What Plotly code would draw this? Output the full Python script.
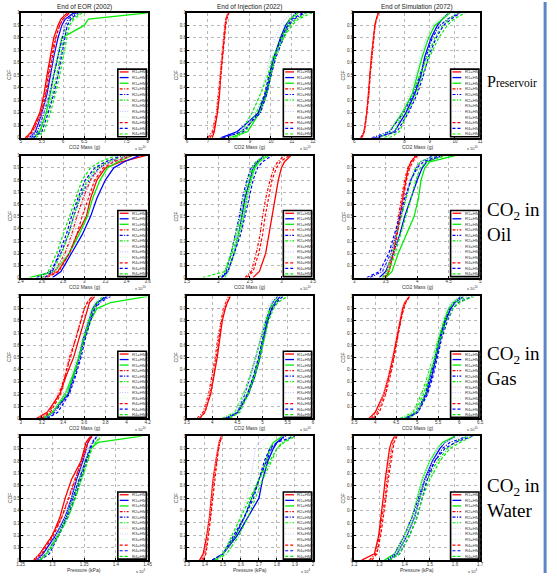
import plotly.graph_objects as go

# ---------------- data ----------------
CDF_LEVELS = [0, 0.05, 0.2, 0.35, 0.5, 0.65, 0.8, 0.9, 0.95, 1.0]
SERIES_NAMES = ["R1=HM1", "R1=HM2", "R1=HM3", "R2=HM1", "R2=HM2", "R2=HM3",
                "R3=HM1", "R3=HM2", "R3=HM3", "R4=HM1", "R4=HM2", "R4=HM3"]
COLUMN_TITLES = ["End of EOR (2002)", "End of Injection (2022)", "End of Simulation (2072)"]
ROW_LABELS = ["P<span style='font-size:11.5px'>reservoir</span>",
              "CO<sub>2</sub> in<br>Oil", "CO<sub>2</sub> in<br>Gas", "CO<sub>2</sub> in<br>Water"]
X_TITLES = ["CO2 Mass (g)", "CO2 Mass (g)", "CO2 Mass (g)", "Pressure (kPa)"]
X_EXPONENTS = ["10", "10", "10", "4"]
Y_TICKS = [0, 0.1, 0.2, 0.3, 0.4, 0.5, 0.6, 0.7, 0.8, 0.9, 1]

# x tick values per panel (row-major)
X_TICKS = [
    [5, 5.5, 6, 6.5, 7, 7.5, 8], [6, 7, 8, 9, 10, 11, 12], [6, 7, 8, 9, 10, 11],
    [2.4, 2.6, 2.8, 3, 3.2, 3.4, 3.6], [1.5, 2, 2.5, 3, 3.5], [3, 3.5, 4, 4.5, 5],
    [3, 3.2, 3.4, 3.6, 3.8, 4, 4.2], [3.5, 4, 4.5, 5, 5.5, 6], [3.5, 4, 4.5, 5, 5.5, 6, 6.5],
    [1.25, 1.3, 1.35, 1.4, 1.45], [1.3, 1.4, 1.5, 1.6, 1.7, 1.8, 1.9, 2], [1.2, 1.3, 1.4, 1.5, 1.6, 1.7],
]

# quantiles (x at each CDF level) for the 12 series of each panel
pres_eor = [
    [5.12, 5.25, 5.45, 5.55, 5.62, 5.7, 5.78, 5.88, 5.95, 6.1],
    [5.2, 5.35, 5.5, 5.62, 5.7, 5.78, 5.88, 5.97, 6.05, 6.25],
    [5.3, 5.45, 5.6, 5.7, 5.78, 5.87, 5.97, 6.5, 6.6, 8.0],
    [5.1, 5.3, 5.48, 5.58, 5.65, 5.72, 5.82, 5.92, 6.0, 6.15],
    [5.25, 5.4, 5.55, 5.68, 5.78, 5.88, 5.97, 6.05, 6.12, 6.3],
    [5.3, 5.45, 5.62, 5.75, 5.85, 5.93, 6.02, 6.1, 6.2, 6.4],
    [5.15, 5.3, 5.5, 5.6, 5.68, 5.77, 5.85, 5.95, 6.02, 6.2],
    [5.2, 5.35, 5.55, 5.67, 5.75, 5.85, 5.95, 6.05, 6.15, 6.4],
    [5.3, 5.5, 5.65, 5.77, 5.87, 5.97, 6.05, 6.15, 6.3, 6.6],
    [5.15, 5.28, 5.48, 5.6, 5.67, 5.75, 5.83, 5.92, 6.0, 6.15],
    [5.3, 5.5, 5.65, 5.78, 5.88, 5.96, 6.03, 6.1, 6.18, 6.35],
    [5.35, 5.55, 5.7, 5.82, 5.92, 6.0, 6.08, 6.15, 6.25, 6.45],
]
pres_inj = [
    [7.2, 7.3, 7.45, 7.55, 7.6, 7.68, 7.75, 7.8, 7.85, 7.95],
    [7.6, 8.4, 9.4, 9.75, 9.95, 10.15, 10.45, 10.7, 10.9, 11.2],
    [8.0, 8.9, 9.45, 9.8, 10.0, 10.2, 10.5, 10.75, 10.9, 11.3],
    [7.0, 7.2, 7.4, 7.5, 7.58, 7.65, 7.72, 7.8, 7.85, 7.95],
    [7.7, 8.6, 9.5, 9.8, 10.0, 10.25, 10.6, 10.85, 11.1, 11.6],
    [8.3, 8.8, 9.3, 9.7, 9.95, 10.2, 10.55, 10.9, 11.2, 11.7],
    [6.9, 7.2, 7.4, 7.5, 7.58, 7.65, 7.72, 7.8, 7.85, 7.95],
    [7.8, 8.5, 9.1, 9.5, 9.75, 9.95, 10.2, 10.45, 10.7, 11.0],
    [8.0, 8.7, 9.2, 9.55, 9.8, 10.05, 10.35, 10.6, 10.85, 11.2],
    [7.1, 7.25, 7.45, 7.55, 7.62, 7.7, 7.77, 7.85, 7.9, 8.0],
    [7.7, 8.7, 9.4, 9.7, 9.9, 10.15, 10.5, 10.8, 11.0, 11.5],
    [8.2, 8.6, 9.1, 9.5, 9.85, 10.1, 10.6, 11.0, 11.3, 11.95],
]
pres_sim = [
    [6.3, 6.4, 6.5, 6.57, 6.62, 6.68, 6.75, 6.82, 6.88, 6.95],
    [6.9, 7.6, 8.05, 8.4, 8.65, 8.8, 9.05, 9.3, 9.5, 9.75],
    [7.0, 7.4, 7.9, 8.3, 8.5, 8.7, 8.95, 9.2, 9.5, 9.8],
    [6.25, 6.38, 6.5, 6.58, 6.63, 6.7, 6.76, 6.83, 6.88, 6.97],
    [6.7, 7.4, 7.95, 8.35, 8.6, 8.85, 9.1, 9.4, 9.7, 10.2],
    [7.2, 7.6, 7.95, 8.3, 8.6, 8.9, 9.2, 9.5, 9.75, 10.1],
    [6.3, 6.4, 6.52, 6.6, 6.65, 6.7, 6.78, 6.85, 6.9, 7.0],
    [7.0, 7.5, 7.9, 8.2, 8.45, 8.65, 8.85, 9.1, 9.4, 9.8],
    [6.9, 7.4, 7.8, 8.15, 8.4, 8.6, 8.85, 9.1, 9.35, 9.7],
    [6.28, 6.4, 6.5, 6.58, 6.63, 6.69, 6.76, 6.82, 6.88, 6.96],
    [6.8, 7.7, 8.15, 8.5, 8.75, 8.95, 9.25, 9.55, 9.85, 10.2],
    [7.4, 7.8, 8.1, 8.45, 8.7, 9.0, 9.35, 9.7, 9.95, 10.4],
]
oil_eor = [
    [2.62, 2.75, 2.86, 2.93, 3.02, 3.06, 3.12, 3.2, 3.35, 3.58],
    [2.7, 2.78, 2.88, 2.98, 3.06, 3.12, 3.2, 3.28, 3.38, 3.52],
    [2.48, 2.72, 2.86, 2.95, 3.03, 3.08, 3.15, 3.22, 3.32, 3.45],
    [2.6, 2.72, 2.82, 2.88, 2.93, 2.99, 3.06, 3.14, 3.22, 3.4],
    [2.55, 2.68, 2.78, 2.85, 2.9, 2.96, 3.05, 3.14, 3.25, 3.42],
    [2.6, 2.7, 2.79, 2.85, 2.9, 2.95, 3.03, 3.12, 3.22, 3.38],
    [2.62, 2.74, 2.84, 2.9, 2.96, 3.02, 3.1, 3.18, 3.28, 3.45],
    [2.6, 2.72, 2.83, 2.89, 2.94, 3.0, 3.07, 3.16, 3.26, 3.42],
    [2.58, 2.7, 2.8, 2.87, 2.92, 2.97, 3.05, 3.14, 3.24, 3.4],
    [2.65, 2.76, 2.86, 2.93, 2.98, 3.04, 3.1, 3.18, 3.28, 3.45],
    [2.63, 2.7, 2.76, 2.83, 2.88, 2.94, 3.01, 3.1, 3.2, 3.35],
    [2.58, 2.66, 2.74, 2.8, 2.86, 2.92, 2.98, 3.06, 3.15, 3.3],
]
oil_inj = [
    [2.55, 2.65, 2.75, 2.8, 2.85, 2.9, 2.95, 3.0, 3.05, 3.15],
    [2.05, 2.15, 2.25, 2.32, 2.37, 2.42, 2.5, 2.55, 2.62, 2.72],
    [2.1, 2.15, 2.25, 2.33, 2.4, 2.45, 2.52, 2.58, 2.65, 2.78],
    [2.42, 2.52, 2.6, 2.66, 2.7, 2.75, 2.82, 2.88, 2.94, 3.05],
    [2.05, 2.12, 2.2, 2.27, 2.33, 2.38, 2.45, 2.52, 2.6, 2.75],
    [2.0, 2.1, 2.22, 2.3, 2.38, 2.44, 2.5, 2.56, 2.64, 2.8],
    [2.5, 2.6, 2.68, 2.74, 2.78, 2.83, 2.9, 2.96, 3.02, 3.1],
    [2.1, 2.15, 2.24, 2.3, 2.35, 2.4, 2.47, 2.54, 2.6, 2.72],
    [2.1, 2.16, 2.26, 2.33, 2.39, 2.45, 2.52, 2.6, 2.66, 2.78],
    [2.45, 2.55, 2.64, 2.7, 2.74, 2.79, 2.85, 2.92, 2.98, 3.12],
    [2.05, 2.15, 2.25, 2.35, 2.42, 2.48, 2.55, 2.62, 2.7, 2.85],
    [1.75, 2.1, 2.2, 2.28, 2.35, 2.4, 2.47, 2.53, 2.6, 2.73],
]
oil_sim = [
    [3.5, 3.55, 3.62, 3.67, 3.71, 3.76, 3.82, 3.86, 3.9, 3.98],
    [3.4, 3.5, 3.62, 3.72, 3.8, 3.9, 4.0, 4.08, 4.15, 4.4],
    [3.5, 3.6, 3.7, 3.82, 3.95, 4.02, 4.06, 4.12, 4.2, 4.6],
    [3.45, 3.52, 3.6, 3.66, 3.7, 3.75, 3.8, 3.85, 3.9, 3.97],
    [3.25, 3.45, 3.58, 3.66, 3.74, 3.82, 3.9, 3.98, 4.06, 4.25],
    [3.45, 3.52, 3.6, 3.68, 3.75, 3.82, 3.9, 3.98, 4.05, 4.3],
    [3.45, 3.52, 3.6, 3.66, 3.72, 3.78, 3.84, 3.9, 3.95, 4.05],
    [3.3, 3.45, 3.57, 3.65, 3.72, 3.8, 3.88, 3.95, 4.05, 4.3],
    [3.45, 3.55, 3.63, 3.7, 3.78, 3.85, 3.93, 4.0, 4.1, 4.4],
    [3.48, 3.55, 3.63, 3.68, 3.72, 3.77, 3.83, 3.88, 3.93, 4.0],
    [3.2, 3.4, 3.55, 3.64, 3.72, 3.8, 3.9, 4.0, 4.1, 4.35],
    [3.45, 3.55, 3.65, 3.74, 3.82, 3.9, 3.98, 4.05, 4.15, 4.45],
]
gas_eor = [
    [3.15, 3.25, 3.37, 3.43, 3.5, 3.55, 3.6, 3.63, 3.65, 3.7],
    [3.22, 3.3, 3.45, 3.5, 3.55, 3.59, 3.64, 3.68, 3.72, 3.82],
    [3.2, 3.3, 3.42, 3.49, 3.55, 3.6, 3.66, 3.72, 3.85, 4.2],
    [3.18, 3.27, 3.36, 3.42, 3.46, 3.52, 3.57, 3.6, 3.63, 3.68],
    [3.25, 3.32, 3.45, 3.51, 3.56, 3.6, 3.65, 3.7, 3.75, 3.85],
    [3.25, 3.3, 3.43, 3.5, 3.55, 3.59, 3.64, 3.69, 3.73, 3.8],
    [3.15, 3.22, 3.34, 3.4, 3.45, 3.5, 3.56, 3.6, 3.63, 3.68],
    [3.2, 3.3, 3.42, 3.48, 3.53, 3.58, 3.63, 3.67, 3.7, 3.78],
    [3.2, 3.28, 3.4, 3.47, 3.52, 3.57, 3.62, 3.66, 3.7, 3.76],
    [3.2, 3.28, 3.38, 3.42, 3.47, 3.52, 3.57, 3.6, 3.63, 3.67],
    [3.25, 3.35, 3.46, 3.52, 3.57, 3.61, 3.66, 3.7, 3.73, 3.8],
    [3.22, 3.3, 3.44, 3.5, 3.55, 3.6, 3.65, 3.68, 3.72, 3.78],
]
gas_inj = [
    [3.75, 3.85, 3.97, 4.04, 4.1, 4.15, 4.2, 4.26, 4.3, 4.36],
    [4.25, 4.5, 4.72, 4.85, 4.95, 5.02, 5.1, 5.18, 5.25, 5.35],
    [4.3, 4.5, 4.7, 4.83, 4.93, 5.0, 5.08, 5.15, 5.2, 5.3],
    [3.7, 3.82, 3.93, 4.0, 4.06, 4.11, 4.17, 4.22, 4.27, 4.32],
    [4.3, 4.5, 4.65, 4.76, 4.87, 4.96, 5.06, 5.14, 5.2, 5.3],
    [4.2, 4.45, 4.62, 4.75, 4.86, 4.95, 5.05, 5.15, 5.25, 5.4],
    [3.72, 3.84, 3.95, 4.02, 4.07, 4.12, 4.18, 4.23, 4.28, 4.33],
    [4.3, 4.5, 4.66, 4.78, 4.88, 4.96, 5.04, 5.1, 5.16, 5.25],
    [4.25, 4.45, 4.63, 4.76, 4.87, 4.95, 5.04, 5.12, 5.2, 5.3],
    [3.75, 3.86, 3.96, 4.03, 4.08, 4.14, 4.19, 4.25, 4.3, 4.35],
    [4.3, 4.52, 4.7, 4.82, 4.92, 5.0, 5.1, 5.2, 5.28, 5.4],
    [4.35, 4.55, 4.72, 4.85, 4.95, 5.03, 5.12, 5.22, 5.3, 5.5],
]
gas_sim = [
    [3.85, 4.0, 4.2, 4.32, 4.42, 4.5, 4.58, 4.65, 4.7, 4.82],
    [4.7, 5.0, 5.22, 5.35, 5.45, 5.55, 5.68, 5.8, 5.9, 6.1],
    [4.8, 5.0, 5.2, 5.3, 5.42, 5.52, 5.65, 5.75, 5.85, 6.05],
    [3.9, 4.05, 4.22, 4.34, 4.44, 4.52, 4.6, 4.67, 4.72, 4.8],
    [4.75, 4.98, 5.2, 5.32, 5.43, 5.53, 5.66, 5.78, 5.88, 6.05],
    [4.6, 4.9, 5.1, 5.25, 5.37, 5.5, 5.63, 5.75, 5.9, 6.2],
    [3.9, 4.05, 4.2, 4.3, 4.4, 4.48, 4.56, 4.63, 4.7, 4.78],
    [4.8, 5.0, 5.15, 5.27, 5.37, 5.47, 5.6, 5.7, 5.8, 6.0],
    [4.8, 5.0, 5.15, 5.27, 5.38, 5.48, 5.6, 5.72, 5.85, 6.1],
    [3.95, 4.1, 4.25, 4.36, 4.45, 4.53, 4.6, 4.68, 4.73, 4.82],
    [4.75, 5.02, 5.25, 5.38, 5.48, 5.58, 5.72, 5.85, 5.98, 6.3],
    [4.7, 4.95, 5.15, 5.3, 5.42, 5.55, 5.7, 5.85, 6.0, 6.35],
]
water_eor = [
    [1.27, 1.28, 1.3, 1.312, 1.32, 1.33, 1.345, 1.35, 1.353, 1.36],
    [1.275, 1.285, 1.305, 1.32, 1.33, 1.338, 1.348, 1.353, 1.356, 1.362],
    [1.28, 1.29, 1.308, 1.322, 1.333, 1.342, 1.352, 1.36, 1.372, 1.44],
    [1.27, 1.28, 1.3, 1.315, 1.325, 1.335, 1.346, 1.352, 1.356, 1.362],
    [1.275, 1.29, 1.308, 1.322, 1.332, 1.342, 1.352, 1.358, 1.362, 1.37],
    [1.28, 1.29, 1.31, 1.325, 1.336, 1.346, 1.355, 1.362, 1.368, 1.375],
    [1.27, 1.282, 1.302, 1.316, 1.326, 1.336, 1.347, 1.353, 1.357, 1.365],
    [1.275, 1.288, 1.306, 1.32, 1.33, 1.34, 1.35, 1.356, 1.362, 1.372],
    [1.28, 1.29, 1.308, 1.322, 1.334, 1.344, 1.354, 1.36, 1.366, 1.375],
    [1.272, 1.283, 1.302, 1.315, 1.326, 1.336, 1.346, 1.352, 1.356, 1.362],
    [1.28, 1.295, 1.31, 1.324, 1.335, 1.344, 1.354, 1.36, 1.364, 1.37],
    [1.28, 1.292, 1.31, 1.325, 1.336, 1.346, 1.356, 1.362, 1.368, 1.378],
]
water_inj = [
    [1.37, 1.39, 1.41, 1.425, 1.435, 1.445, 1.46, 1.47, 1.478, 1.49],
    [1.45, 1.5, 1.58, 1.64, 1.7, 1.72, 1.75, 1.78, 1.8, 1.84],
    [1.45, 1.5, 1.57, 1.62, 1.66, 1.7, 1.74, 1.76, 1.78, 1.83],
    [1.38, 1.4, 1.415, 1.43, 1.44, 1.45, 1.465, 1.475, 1.482, 1.495],
    [1.44, 1.5, 1.57, 1.62, 1.66, 1.7, 1.74, 1.77, 1.8, 1.85],
    [1.46, 1.52, 1.59, 1.64, 1.68, 1.72, 1.77, 1.8, 1.83, 1.88],
    [1.38, 1.4, 1.415, 1.428, 1.438, 1.448, 1.46, 1.47, 1.477, 1.49],
    [1.46, 1.5, 1.56, 1.6, 1.63, 1.655, 1.67, 1.68, 1.7, 1.75],
    [1.45, 1.5, 1.56, 1.6, 1.64, 1.67, 1.7, 1.72, 1.75, 1.8],
    [1.39, 1.405, 1.42, 1.432, 1.442, 1.452, 1.465, 1.475, 1.483, 1.495],
    [1.44, 1.5, 1.56, 1.62, 1.67, 1.7, 1.73, 1.76, 1.8, 1.9],
    [1.46, 1.5, 1.55, 1.6, 1.65, 1.7, 1.76, 1.8, 1.84, 1.9],
]
water_sim = [
    [1.23, 1.28, 1.297, 1.307, 1.315, 1.323, 1.333, 1.34, 1.347, 1.36],
    [1.33, 1.37, 1.41, 1.44, 1.46, 1.48, 1.51, 1.54, 1.56, 1.6],
    [1.32, 1.36, 1.4, 1.43, 1.45, 1.47, 1.5, 1.53, 1.55, 1.6],
    [1.26, 1.285, 1.3, 1.312, 1.322, 1.33, 1.34, 1.348, 1.355, 1.365],
    [1.33, 1.36, 1.4, 1.43, 1.455, 1.48, 1.52, 1.55, 1.58, 1.65],
    [1.34, 1.37, 1.41, 1.44, 1.46, 1.49, 1.53, 1.57, 1.6, 1.65],
    [1.27, 1.29, 1.305, 1.315, 1.325, 1.333, 1.343, 1.35, 1.357, 1.37],
    [1.33, 1.37, 1.41, 1.44, 1.46, 1.48, 1.51, 1.53, 1.56, 1.62],
    [1.33, 1.36, 1.4, 1.43, 1.45, 1.47, 1.5, 1.53, 1.56, 1.62],
    [1.27, 1.29, 1.305, 1.316, 1.326, 1.335, 1.345, 1.352, 1.358, 1.37],
    [1.34, 1.38, 1.42, 1.45, 1.47, 1.49, 1.52, 1.56, 1.6, 1.67],
    [1.34, 1.38, 1.42, 1.45, 1.47, 1.5, 1.54, 1.58, 1.62, 1.67],
]

PANELS = [pres_eor, pres_inj, pres_sim, oil_eor, oil_inj, oil_sim,
          gas_eor, gas_inj, gas_sim, water_eor, water_inj, water_sim]

# ---------------- styling ----------------
W, H = 557, 576
COLS_PX = [(17, 146), (186, 314), (356, 484)]
ROWS_PX = [(11, 137), (155, 278), (297, 420), (438, 563)]
BASE = ["#ff0000", "#0000ff", "#00ee00"]
LIGHT = ["#ffc4c4", "#c4c4ff", "#c4ffc4"]
RUN_DASH = ["solid", "3px,1.5px,1px,1.5px", "1px,1.5px", "3px,2px"]
RUN_WIDTH = [1.3, 1.2, 1.1, 1.2]
FONT = "Liberation Sans, Arial, sans-serif"


def style(i):
    run, hm = divmod(i, 3)
    color = LIGHT[hm] if run == 2 else BASE[hm]
    return dict(color=color, dash=RUN_DASH[run], width=RUN_WIDTH[run])


fig = go.Figure()
layout = dict(width=W, height=H, margin=dict(l=0, r=0, t=0, b=0),
              paper_bgcolor="white", plot_bgcolor="white", showlegend=False)
shapes, annotations = [], []

for k, series in enumerate(PANELS):
    r, c = divmod(k, 3)
    n = "" if k == 0 else str(k + 1)
    xa, ya = "x" + n, "y" + n
    x0p, x1p = COLS_PX[c]
    t, b = ROWS_PX[r]
    for i, vals in enumerate(series):
        fig.add_trace(go.Scatter(x=vals, y=CDF_LEVELS, mode="lines", xaxis=xa, yaxis=ya,
                                 name=SERIES_NAMES[i], line=style(i), hoverinfo="x+y+name"))
    ticks = X_TICKS[k]
    axis_common = dict(
        tickfont=dict(size=4.5, color="#333", family=FONT),
        showline=True, mirror=True, linecolor="black", linewidth=2,
        showgrid=True, gridcolor="#b8b8b8", griddash="dot", gridwidth=0.7,
        ticks="inside", ticklen=2, tickcolor="black", zeroline=False,
        ticklabelstandoff=-2)
    layout["xaxis" + n] = dict(
        domain=[x0p / W, x1p / W], anchor=ya, range=[ticks[0], ticks[-1]],
        tickvals=ticks, ticktext=[f"{v:g}" for v in ticks], **axis_common)
    layout["yaxis" + n] = dict(
        domain=[1 - b / H, 1 - t / H], anchor=xa, range=[0, 1],
        tickvals=Y_TICKS, ticktext=[f"{v:g}" for v in Y_TICKS], **axis_common)

    xd, yd = xa + " domain", ya + " domain"
    # axis labels
    annotations.append(dict(text=X_TITLES[r], xref=xd, yref=yd, x=0.5, y=0, yshift=-9.5,
                            showarrow=False, yanchor="middle",
                            font=dict(size=5, color="#333", family=FONT)))
    annotations.append(dict(text="x 10<sup>" + X_EXPONENTS[r] + "</sup>", xref=xd, yref=yd,
                            x=1, y=0, yshift=-10.5, xanchor="right", yanchor="middle",
                            showarrow=False, font=dict(size=4, color="#333", family=FONT)))
    annotations.append(dict(text="CDF", xref=xd, yref=yd, x=0, y=0.5, xshift=-11,
                            textangle=-90, showarrow=False, xanchor="center",
                            font=dict(size=5, color="#333", family=FONT)))
    if r == 0:
        annotations.append(dict(text=COLUMN_TITLES[c], xref=xd, yref=yd, x=0.5, y=1,
                                yshift=6, showarrow=False, yanchor="middle",
                                font=dict(size=6.5, color="#222", family=FONT)))
    # legend box drawn inside each panel
    lx0, lx1, ly0, ly1 = 0.765, 0.99, 0.008, 0.55
    shapes.append(dict(type="rect", xref=xd, yref=yd, x0=lx0, x1=lx1, y0=ly0, y1=ly1,
                       line=dict(color="black", width=1.6), fillcolor="white"))
    step = (ly1 - ly0) / len(SERIES_NAMES)
    for i, name in enumerate(SERIES_NAMES):
        yc = ly1 - (i + 0.5) * step
        st = style(i)
        shapes.append(dict(type="line", xref=xd, yref=yd, x0=lx0 + 0.015, x1=lx0 + 0.085,
                           y0=yc, y1=yc, line=dict(color=st["color"], dash=st["dash"],
                                                   width=st["width"])))
        annotations.append(dict(text=name, xref=xd, yref=yd, x=lx0 + 0.095, y=yc,
                                xanchor="left", yanchor="middle", showarrow=False,
                                font=dict(size=4.2, color="#444", family=FONT)))

# row labels on the right
ROW_LABEL_Y = [80, 222, 367, 500]
for lbl, yp in zip(ROW_LABELS, ROW_LABEL_Y):
    size = 16 if lbl.startswith("P") else 19
    annotations.append(dict(text=lbl, xref="paper", yref="paper", x=489 / W, y=1 - yp / H,
                            xanchor="left", yanchor="middle", align="left", showarrow=False,
                            font=dict(size=size, color="black",
                                      family="Liberation Serif, Times New Roman, serif")))

# slide border line at the right edge
shapes.append(dict(type="line", xref="paper", yref="paper", x0=550 / W, x1=550 / W,
                   y0=0, y1=1, line=dict(color="#5b87c5", width=3)))

layout["shapes"] = shapes
layout["annotations"] = annotations
fig.update_layout(**layout)
fig.write_html("out.html", config={"displayModeBar": False},
               post_script="document.body.style.margin='0';document.body.style.overflow='hidden';")
